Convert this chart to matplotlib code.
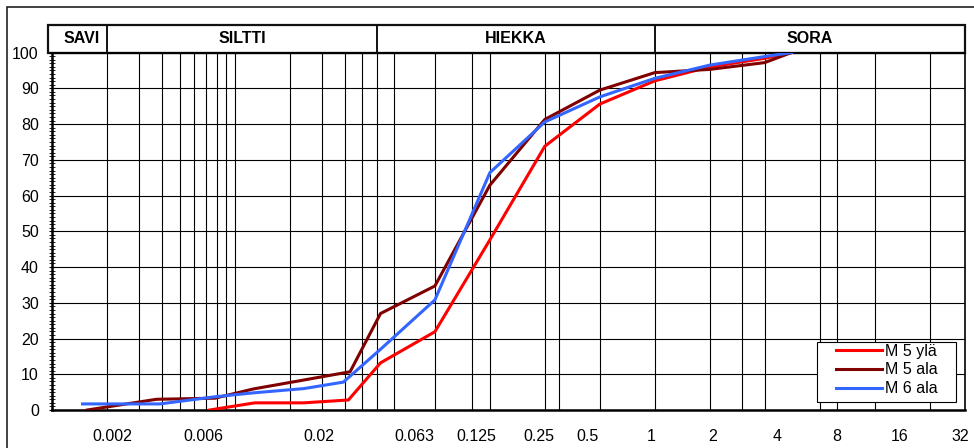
import matplotlib
matplotlib.use('Agg')
import matplotlib.pyplot as plt
import matplotlib.transforms as mtransforms
from matplotlib.patches import Rectangle
from matplotlib.ticker import MultipleLocator, NullLocator

plt.rcParams['font.family'] = ['Liberation Sans', 'DejaVu Sans']

#### DATA - grain size (mm) and passing (%)
d_m5_yla = [0.0073, 0.0129, 0.0238, 0.042, 0.063, 0.125, 0.25, 0.5, 1, 2, 4, 8, 11.2]
p_m5_yla = [0, 2, 2, 2.8, 13.2, 21.9, 47.6, 73.8, 85.6, 92.1, 96.0, 98.4, 100]

d_m5_ala = [0.00156, 0.00374, 0.0078, 0.0127, 0.0228, 0.0429, 0.063, 0.125, 0.25, 0.5, 1, 2, 4, 8, 11.2]
p_m5_ala = [0, 3.0, 3.3, 5.9, 8.2, 10.7, 27.0, 34.7, 62.9, 81.3, 89.5, 94.4, 95.3, 97.2, 100]

d_m6_ala = [0.00147, 0.0039, 0.0078, 0.0127, 0.024, 0.0394, 0.063, 0.125, 0.25, 0.5, 1, 2, 4, 8, 11.2]
p_m6_ala = [1.7, 1.7, 3.7, 4.8, 6.0, 7.8, 17.0, 30.8, 66.4, 80.6, 87.6, 92.8, 96.5, 98.9, 100]

series_names = ['M 5 ylä', 'M 5 ala', 'M 6 ala']
series_colors = ['#FF0000', '#800000', '#3366FF']

# sieve / grid sizes (mm)
grid_mm = [0.002, 0.003, 0.004, 0.005, 0.006, 0.007, 0.008, 0.009, 0.01,
           0.02, 0.03, 0.04, 0.05, 0.06, 0.075, 0.125, 0.2, 0.25, 0.5, 0.6,
           1, 2, 4, 6, 8, 16, 20, 32, 64]

# soil classes and their limits (mm)
class_names = ['SAVI', 'SILTTI', 'HIEKKA', 'SORA']
class_limits = [0.001, 0.002, 0.06, 2, 100]

# x labels as they sit under the chart (axes fraction)
x_labels = ['0.002', '0.006', '0.02', '0.063', '0.125', '0.25', '0.5', '1', '2', '4', '8', '16', '32']
x_label_pos = [0.0663, 0.1662, 0.2927, 0.397, 0.4652, 0.5334, 0.5865, 0.6568, 0.724, 0.7937, 0.8598, 0.9288, 0.9945]

FS = 11.5

#### FIGURE
fig = plt.figure(figsize=(9.74, 4.48), dpi=100)
ax = fig.add_axes([52 / 974, 1 - 410 / 448, 913 / 974, 357.4 / 448])

# outer chart frame (runs off right and bottom)
fig.add_artist(Rectangle((7 / 974, -0.2), 1.5, 441 / 448 + 0.2, transform=fig.transFigure,
                         fill=False, lw=1.2, ec='#222222'))

ax.set_xscale('log')
ax.set_xlim(class_limits[0], class_limits[-1])
ax.set_ylim(0, 100)

#### CURVES
for d, p, name, col in zip([d_m5_yla, d_m5_ala, d_m6_ala], [p_m5_yla, p_m5_ala, p_m6_ala],
                           series_names, series_colors):
    ax.plot(d, p, color=col, lw=2.2, label=name, zorder=3, solid_joinstyle='miter')

#### GRID
ax.set_xticks(grid_mm)
ax.set_xticklabels([''] * len(grid_mm))
ax.xaxis.set_minor_locator(NullLocator())
ax.tick_params(axis='x', length=0)
ax.set_yticks(range(0, 101, 10))
ax.yaxis.set_minor_locator(MultipleLocator(1))
ax.grid(True, which='major', color='black', lw=0.8)
ax.tick_params(axis='y', which='major', direction='inout', length=5, width=0.8, labelsize=FS, pad=7)
ax.tick_params(axis='y', which='minor', direction='inout', length=4, width=0.6)
for s in ['left', 'bottom']:
    ax.spines[s].set_linewidth(1.8)
ax.spines['right'].set_linewidth(1.2)
ax.spines['top'].set_linewidth(1.5)

for lab, pos in zip(x_labels, x_label_pos):
    ax.text(pos, -0.0747, lab, transform=ax.transAxes, ha='center', va='center', fontsize=FS)

#### HEADER WITH SOIL CLASSES
hdr_bottom, hdr_top = 1.0, 1.0 + 27.5 / 357.4
ax.add_patch(Rectangle((-4 / 913, hdr_bottom), 1 + 4 / 913, hdr_top - hdr_bottom, transform=ax.transAxes,
                       fill=False, lw=1.6, ec='#111111', clip_on=False))
trans = mtransforms.blended_transform_factory(ax.transData, ax.transAxes)
for lim in class_limits[1:-1]:
    ax.plot([lim, lim], [hdr_bottom, hdr_top], transform=trans, color='#111111', lw=1.4, clip_on=False)
for i, name in enumerate(class_names):
    lo = max(class_limits[i], 0.00105)
    mid = (lo * class_limits[i + 1]) ** 0.5
    ax.text(mid, (hdr_bottom + hdr_top) / 2, name, transform=trans, ha='center', va='center',
            fontsize=FS, fontweight='bold')

#### LEGEND
ax.add_patch(Rectangle((765 / 913, 8 / 357.4), 139 / 913, 60 / 357.4, transform=ax.transAxes,
                       facecolor='white', edgecolor='black', lw=0.8, zorder=4))
leg = ax.legend(loc='center left', bbox_to_anchor=(784 / 913, 40 / 357.4), fontsize=FS, frameon=False,
                borderpad=0, handlelength=2.9, handletextpad=0.15, labelspacing=0.25, borderaxespad=0)
leg.set_zorder(5)

plt.savefig('out.png', dpi=100)
